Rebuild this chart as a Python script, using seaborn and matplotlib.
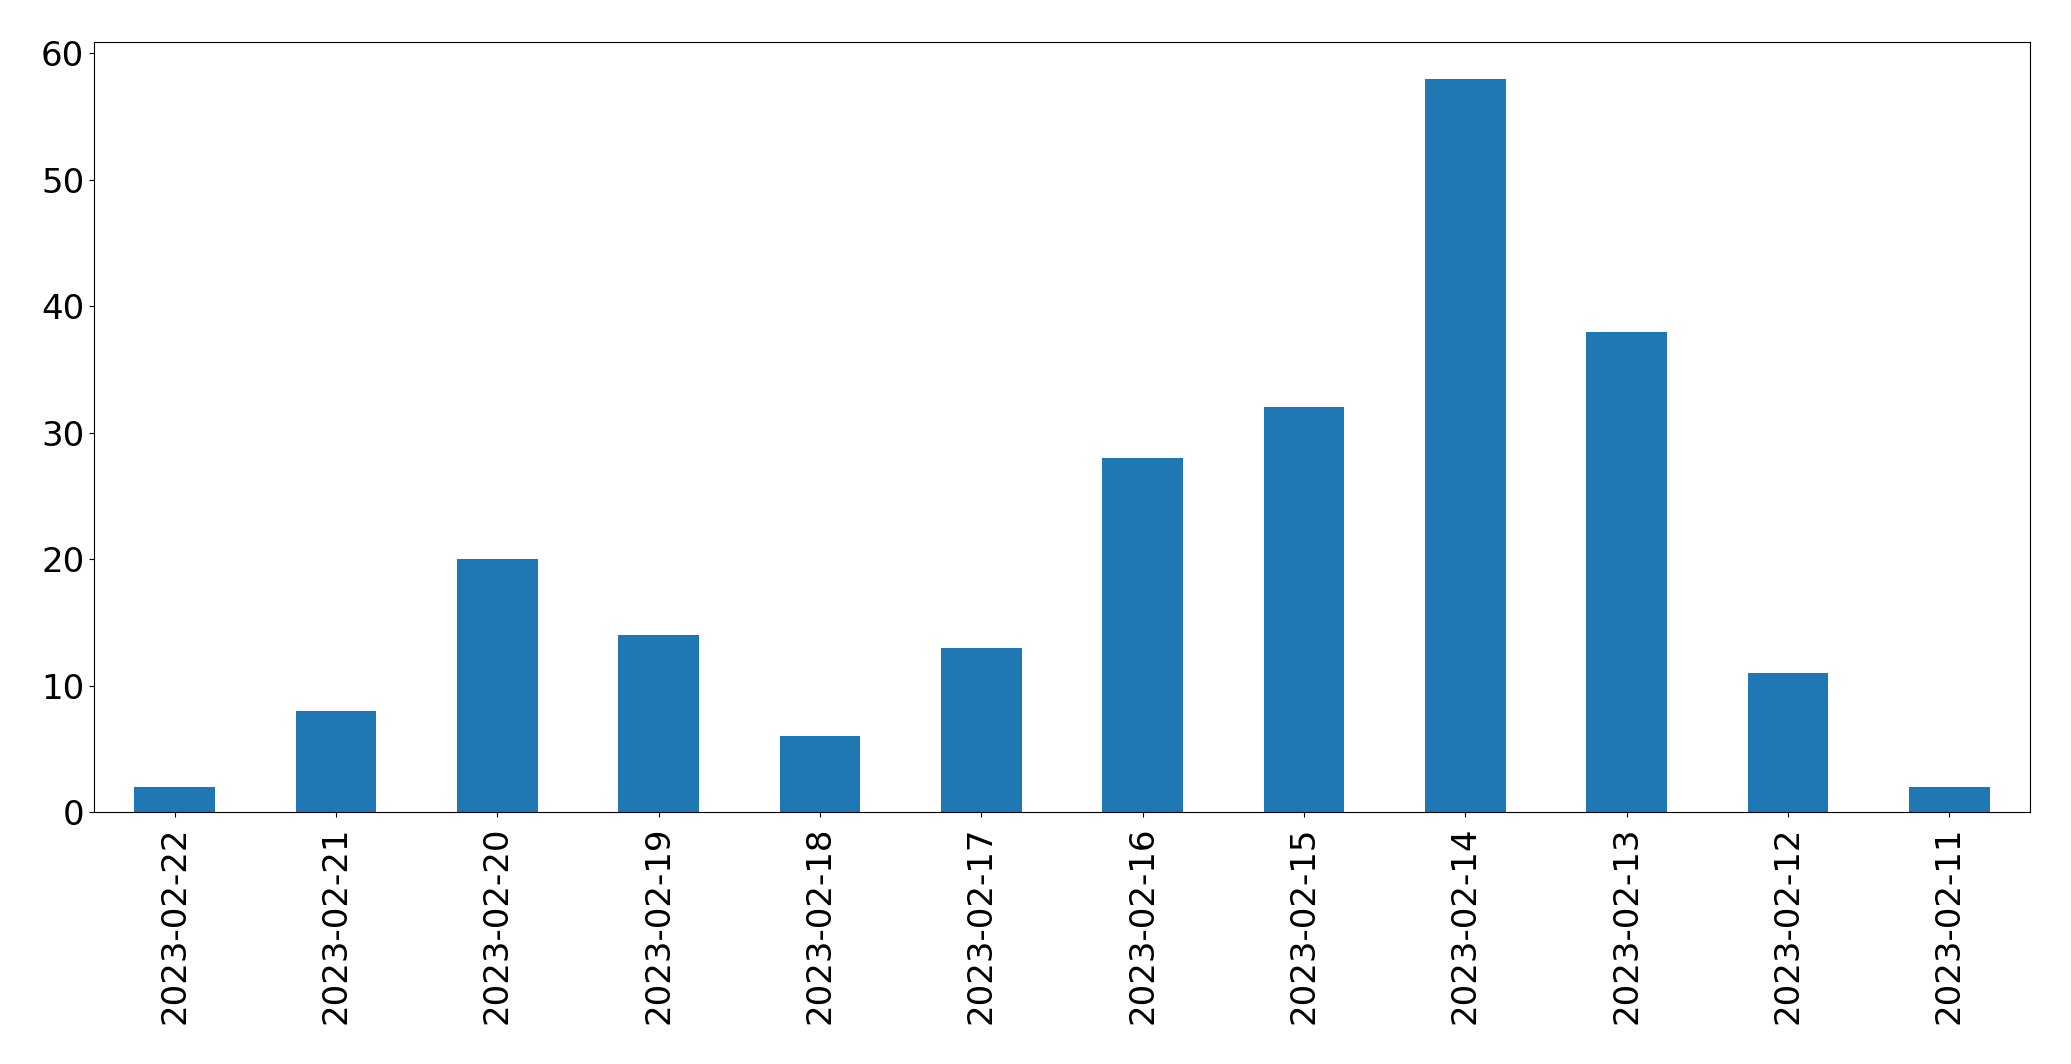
import matplotlib
matplotlib.use("Agg")
import matplotlib.pyplot as plt
import seaborn as sns
import pandas as pd

dates = ["2023-02-22", "2023-02-21", "2023-02-20", "2023-02-19", "2023-02-18", "2023-02-17",
         "2023-02-16", "2023-02-15", "2023-02-14", "2023-02-13", "2023-02-12", "2023-02-11"]
counts = [2, 8, 20, 14, 6, 13, 28, 32, 58, 38, 11, 2]

df = pd.DataFrame({"date": dates, "count": counts})

fig, ax = plt.subplots(figsize=(20.71, 10.64), dpi=100)
fig.subplots_adjust(left=94 / 2071, right=2030 / 2071, top=1 - 42 / 1064, bottom=1 - 812 / 1064)
sns.barplot(data=df, x="date", y="count", order=dates, color="#1f77b4", saturation=1,
            width=0.5, ax=ax)
ax.set_xlim(-0.5, len(dates) - 0.5)
ax.set_ylim(0, max(counts) * 1.05)
ax.set_xlabel("")
ax.set_ylabel("")
ax.tick_params(axis="both", labelsize=24.5)
ax.tick_params(axis="x", pad=7)
plt.setp(ax.get_xticklabels(), rotation=90)
fig.savefig("out.png", dpi=100)
